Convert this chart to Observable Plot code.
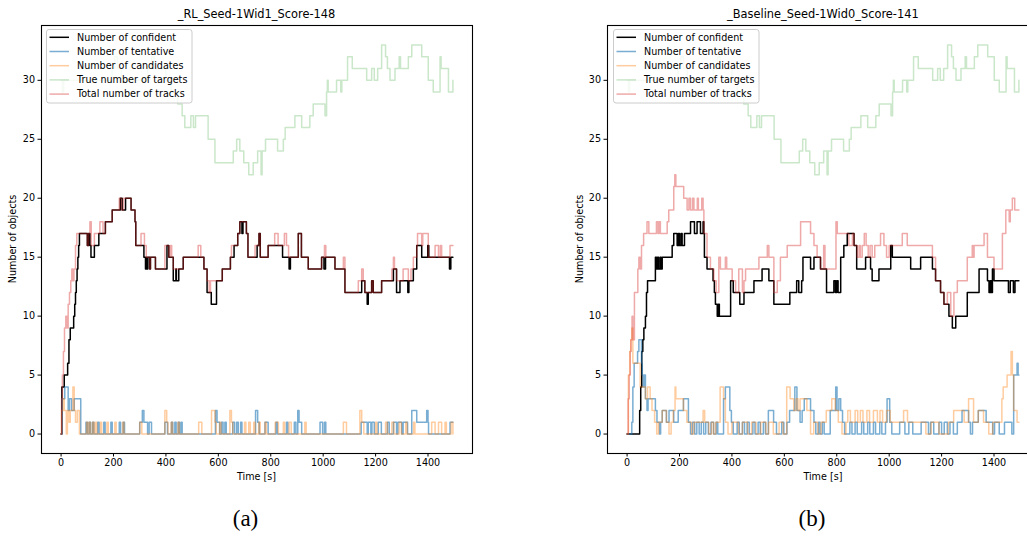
<!DOCTYPE html>
<html>
<head>
<meta charset="utf-8">
<script src="https://cdn.jsdelivr.net/npm/d3@7"></script>
<script src="https://cdn.jsdelivr.net/npm/@observablehq/plot@0.6"></script>
<style>
  html, body { margin: 0; padding: 0; background: #fff; overflow: hidden; }
  #page { position: relative; width: 1027px; height: 560px; overflow: hidden; font-family: "DejaVu Sans", sans-serif; color: #000; }
  .panel { position: absolute; top: 0; width: 500px; height: 500px; }
  .panel svg { max-width: none !important; }
  .txt { position: absolute; white-space: nowrap; line-height: 1; }
  .title { font-size: 11.4px; transform: translate(-50%, -50%); }
  .xlab { font-size: 9.6px; transform: translate(-50%, -50%); }
  .ylab { font-size: 9.6px; transform: translate(-50%, -50%) rotate(-90deg); }
  .cap { font-family: "Liberation Serif", serif; font-size: 23px; transform: translate(-50%, -50%); }
  .legend { position: absolute; }
</style>
</head>
<body>
<div id="page"></div>
<script>
// Time series are stored as change points [time (s), count]; drawn as step curves.

// Ground truth is shared by both runs (same seed).
const truthTargets = [[0,30],[5,29],[10,30],[195,31],[205,32],[215,31],[230,30],[330,31],[345,32],[355,31],[400,30],[420,29],[445,28],[462,27],[472,26],[495,27],[505,26],[513,27],[561,25],[587,23],[657,24],[670,25],[682,24],[697,23],[716,22],[733,23],[750,24],[763,22],[767,24],[780,25],[826,24],[848,25],[855,26],[892,27],[918,26],[949,27],[962,28],[1007,27],[1013,29],[1016,30],[1019,29],[1051,30],[1067,29],[1071,30],[1093,32],[1111,31],[1166,30],[1185,31],[1195,30],[1208,31],[1223,33],[1238,32],[1245,31],[1255,30],[1274,31],[1290,32],[1295,31],[1325,32],[1338,33],[1376,32],[1401,30],[1420,29],[1446,32],[1450,31],[1478,29],[1495,30]];

// Run (a): RL policy
const rlConfident = [[0,0],[3,4],[12,5],[25,6],[30,8],[35,9],[48,10],[52,11],[55,12],[58,13],[61,14],[64,15],[67,16],[70,17],[100,16],[105,17],[110,16],[114,15],[127,16],[144,17],[169,18],[195,19],[226,20],[233,19],[246,20],[267,19],[282,18],[285,16],[316,15],[322,14],[325,15],[328,14],[331,15],[338,14],[341,15],[360,14],[404,16],[411,15],[428,13],[438,14],[440,13],[449,14],[466,15],[545,14],[557,12],[573,11],[593,13],[615,14],[646,15],[660,16],[674,17],[682,18],[690,17],[694,18],[707,17],[713,15],[748,16],[755,17],[760,15],[790,16],[845,15],[870,14],[875,15],[905,17],[917,15],[943,14],[994,15],[1003,14],[1009,15],[1045,14],[1083,12],[1147,13],[1159,12],[1168,11],[1172,12],[1185,13],[1191,12],[1223,13],[1268,14],[1280,12],[1293,13],[1323,12],[1327,13],[1344,14],[1357,16],[1376,15],[1399,16],[1403,15],[1482,14],[1487,15],[1495,15]];
const rlTentative = [[0,0],[4,3],[14,4],[27,2],[32,3],[40,2],[50,3],[75,0],[95,1],[100,0],[107,1],[112,0],[120,1],[125,0],[140,1],[145,0],[163,1],[168,0],[190,1],[195,0],[222,1],[227,0],[237,1],[242,0],[300,1],[310,2],[316,1],[330,0],[336,1],[345,0],[396,1],[406,0],[421,1],[426,0],[434,1],[439,0],[447,1],[452,0],[458,1],[462,0],[589,2],[595,1],[605,0],[612,1],[618,0],[625,1],[630,0],[655,1],[662,0],[670,1],[676,0],[685,1],[690,0],[742,2],[750,1],[756,0],[778,1],[790,0],[820,1],[825,0],[860,1],[865,0],[890,1],[896,0],[903,2],[908,1],[918,0],[988,1],[998,0],[1005,1],[1010,0],[1145,1],[1168,0],[1172,1],[1182,0],[1186,1],[1195,0],[1210,1],[1222,0],[1245,1],[1252,0],[1268,1],[1280,0],[1285,1],[1300,0],[1305,1],[1322,0],[1338,2],[1357,1],[1395,2],[1400,1],[1402,0],[1484,1],[1495,1]];
const rlCandidates = [[0,0],[2,2],[8,3],[12,2],[20,0],[24,2],[30,1],[35,2],[45,4],[50,2],[55,1],[62,2],[70,0],[97,1],[102,0],[107,1],[112,0],[120,1],[125,0],[131,1],[136,0],[150,1],[155,0],[175,1],[180,0],[205,1],[210,0],[235,1],[240,0],[300,1],[308,0],[396,2],[403,1],[408,0],[420,1],[425,0],[446,1],[451,0],[525,1],[537,0],[574,2],[587,1],[592,0],[605,1],[610,0],[644,2],[650,1],[655,0],[700,1],[705,0],[716,1],[722,0],[735,1],[740,0],[754,1],[760,0],[778,1],[783,0],[817,1],[829,0],[848,1],[853,0],[870,1],[878,0],[930,1],[935,0],[1077,1],[1089,0],[1140,2],[1147,1],[1155,0],[1200,1],[1205,0],[1238,1],[1245,0],[1262,1],[1270,0],[1290,1],[1298,0],[1315,1],[1320,0],[1345,1],[1350,0],[1414,1],[1427,0],[1440,1],[1452,0],[1465,1],[1470,0],[1488,1],[1495,0]];
const rlTotal = [[0,0],[2,3],[5,5],[9,7],[13,9],[18,10],[22,9],[27,11],[32,12],[37,13],[41,14],[45,13],[49,14],[55,16],[60,17],[100,16],[105,17],[110,18],[115,16],[127,17],[148,18],[160,17],[169,18],[195,19],[222,20],[230,19],[238,20],[267,19],[282,18],[285,16],[305,17],[318,16],[325,15],[338,14],[341,15],[360,14],[396,16],[411,15],[417,16],[422,15],[428,14],[466,15],[523,16],[533,15],[545,14],[557,13],[565,12],[570,13],[615,14],[646,15],[650,16],[674,17],[682,18],[707,17],[713,15],[740,16],[755,17],[760,15],[790,16],[815,17],[828,16],[852,17],[860,16],[868,15],[905,17],[917,15],[943,14],[994,15],[1005,16],[1010,15],[1045,14],[1077,15],[1083,12],[1134,13],[1147,14],[1153,13],[1159,12],[1185,13],[1191,12],[1223,13],[1262,14],[1268,15],[1272,14],[1280,13],[1305,14],[1325,13],[1335,14],[1344,15],[1357,16],[1360,17],[1376,16],[1380,17],[1401,15],[1427,16],[1440,15],[1447,16],[1452,15],[1484,16],[1495,16]];

// Run (b): baseline policy
const blConfident = [[0,0],[48,2],[52,4],[56,7],[60,8],[64,9],[70,10],[74,12],[78,13],[108,15],[112,14],[116,15],[120,14],[126,15],[130,14],[134,15],[172,16],[178,17],[191,16],[196,17],[200,16],[206,17],[210,16],[219,17],[242,18],[257,17],[267,18],[280,17],[290,18],[293,17],[295,15],[305,14],[328,13],[333,12],[337,11],[344,10],[348,11],[352,10],[395,13],[405,12],[430,11],[446,12],[484,13],[515,14],[541,13],[560,11],[621,12],[647,13],[655,12],[666,13],[671,15],[700,14],[713,15],[738,14],[761,12],[789,13],[795,12],[800,13],[805,12],[815,15],[827,16],[840,17],[866,16],[876,14],[910,15],[929,14],[935,13],[961,14],[1006,16],[1012,15],[1082,14],[1120,15],[1165,14],[1177,13],[1196,12],[1209,11],[1228,10],[1241,9],[1254,10],[1298,12],[1343,14],[1375,13],[1381,12],[1386,13],[1390,12],[1394,14],[1400,13],[1455,12],[1462,13],[1474,12],[1480,13],[1495,13]];
const blTentative = [[0,0],[18,1],[22,4],[27,6],[40,7],[45,8],[55,6],[58,5],[62,4],[66,5],[70,3],[76,2],[80,3],[108,2],[114,1],[124,0],[128,1],[134,2],[150,1],[160,2],[178,1],[195,2],[215,3],[234,1],[242,0],[250,1],[258,0],[266,1],[275,0],[283,1],[292,0],[300,1],[310,0],[320,1],[330,0],[340,1],[346,0],[368,3],[375,4],[392,2],[398,1],[405,0],[420,1],[428,0],[440,1],[448,0],[458,1],[466,0],[480,1],[488,0],[500,1],[508,0],[520,1],[528,0],[539,2],[559,1],[570,0],[590,1],[598,0],[610,1],[620,2],[640,4],[648,2],[660,1],[668,2],[676,3],[700,2],[713,1],[720,0],[730,1],[736,0],[745,1],[752,0],[775,2],[796,4],[801,2],[808,3],[815,2],[822,1],[830,0],[850,1],[858,0],[870,1],[878,0],[895,1],[903,0],[918,1],[926,0],[940,1],[948,0],[964,1],[972,0],[986,1],[992,3],[1002,1],[1010,0],[1040,1],[1060,0],[1075,1],[1090,0],[1122,1],[1150,0],[1158,1],[1170,0],[1190,1],[1200,0],[1210,1],[1222,0],[1232,1],[1245,0],[1260,1],[1278,2],[1303,1],[1310,0],[1318,1],[1340,2],[1370,1],[1395,0],[1402,1],[1420,0],[1440,1],[1468,0],[1475,5],[1488,6],[1492,5],[1495,5]];
const blCandidates = [[0,0],[5,5],[10,7],[14,8],[18,9],[22,6],[50,4],[70,3],[78,4],[88,3],[95,2],[105,1],[113,0],[120,1],[134,2],[150,1],[160,0],[168,1],[176,2],[183,4],[186,3],[215,2],[228,1],[246,0],[255,1],[290,2],[296,1],[312,0],[322,1],[330,0],[338,1],[355,4],[368,3],[375,1],[385,0],[400,1],[425,0],[440,1],[460,0],[475,1],[492,0],[510,1],[530,0],[540,1],[558,0],[580,1],[595,0],[609,4],[622,3],[636,2],[645,3],[652,2],[660,3],[686,2],[700,0],[712,1],[728,0],[740,1],[760,2],[781,3],[794,2],[806,1],[820,0],[835,1],[842,2],[852,1],[870,2],[880,1],[890,2],[900,1],[915,2],[925,1],[940,2],[955,1],[965,2],[975,1],[990,2],[1004,1],[1055,2],[1070,1],[1140,0],[1160,1],[1190,0],[1226,1],[1246,2],[1286,1],[1303,3],[1322,1],[1340,2],[1360,1],[1380,0],[1395,1],[1430,3],[1435,4],[1450,5],[1465,7],[1470,5],[1475,2],[1488,1],[1495,1]];
const blTotal = [[0,0],[4,3],[8,5],[12,7],[15,8],[19,10],[22,8],[28,12],[41,14],[45,15],[50,14],[55,16],[63,17],[76,18],[83,17],[112,18],[118,17],[122,18],[127,17],[153,18],[159,19],[178,21],[182,22],[186,21],[216,20],[229,19],[236,20],[242,19],[250,20],[255,19],[268,20],[272,19],[285,20],[290,19],[293,17],[305,15],[318,14],[331,13],[340,12],[350,15],[356,14],[375,15],[380,14],[401,13],[414,12],[426,14],[440,12],[446,13],[452,14],[503,15],[535,16],[541,15],[560,12],[573,13],[585,15],[611,16],[662,18],[700,17],[713,16],[725,15],[738,14],[750,16],[755,14],[797,18],[802,17],[846,16],[860,17],[866,16],[878,15],[885,16],[890,15],[897,16],[905,17],[912,16],[920,15],[927,16],[935,15],[945,16],[967,17],[980,16],[990,15],[1000,16],[1050,17],[1069,16],[1165,15],[1177,13],[1196,12],[1209,11],[1222,12],[1235,10],[1247,12],[1260,13],[1298,15],[1317,16],[1320,15],[1324,16],[1362,17],[1375,15],[1400,14],[1432,17],[1445,19],[1458,18],[1462,19],[1470,20],[1479,19],[1495,19]];

// Axis ticks and labels
const xTicks = [0, 200, 400, 600, 800, 1000, 1200, 1400];
const yTicks = [0, 5, 10, 15, 20, 25, 30];
const seriesNames = ["Number of confident", "Number of tentative", "Number of candidates", "True number of targets", "Total number of tracks"];
const seriesColors = ["#000000", "#1f77b4", "#ff7f0e", "#2ca02c", "#d62728"];
const seriesOpacity = [1, 0.6, 0.4, 0.25, 0.4];
const panelTitles = ["_RL_Seed-1Wid1_Score-148", "_Baseline_Seed-1Wid0_Score-141"];
const panelCaptions = ["(a)", "(b)"];
const xLabel = "Time [s]";
const yLabel = "Number of objects";

const runs = [
  [rlConfident, rlTentative, rlCandidates, truthTargets, rlTotal],
  [blConfident, blTentative, blCandidates, truthTargets, blTotal]
];

const W = 500, H = 500, ML = 41, MR = 28, MT = 25, MB = 47;
const panelLeft = [0, 566.4];
const page = document.getElementById("page");

function addText(cls, text, x, y) {
  const d = document.createElement("div");
  d.className = "txt " + cls;
  d.textContent = text;
  d.style.left = x + "px";
  d.style.top = y + "px";
  page.appendChild(d);
}

runs.forEach((series, i) => {
  const chart = Plot.plot({
    width: W, height: H,
    marginLeft: ML, marginRight: MR, marginTop: MT, marginBottom: MB,
    style: { fontFamily: "DejaVu Sans", fontSize: "9.6px", color: "#000", background: "transparent", overflow: "visible", maxWidth: "none" },
    x: { domain: [-74.75, 1569.75], ticks: xTicks, tickFormat: d => String(d), tickSize: 3.5, tickPadding: 2.5, label: null },
    y: { domain: [-1.65, 34.65], ticks: yTicks, tickFormat: d => String(d), tickSize: 3.5, tickPadding: 3, label: null },
    marks: [
      ...series.map((s, k) => Plot.line(s, {
        x: d => d[0], y: d => d[1], curve: "step-after",
        stroke: seriesColors[k], strokeOpacity: seriesOpacity[k], strokeWidth: 1.5
      })),
      Plot.frame({ stroke: "#000", strokeWidth: 1.1 })
    ]
  });
  chart.style.maxWidth = "none";
  const wrap = document.createElement("div");
  wrap.className = "panel";
  wrap.style.left = panelLeft[i] + "px";
  wrap.appendChild(chart);
  page.appendChild(wrap);

  const left = panelLeft[i] + ML;
  const cx = left + (W - ML - MR) / 2;
  addText("title", panelTitles[i], cx, 15);
  addText("xlab", xLabel, cx, 477);
  addText("ylab", yLabel, left - 27.8, 239);
  addText("cap", panelCaptions[i], panelLeft[i] + 245.5, 518);

  // Legend box in the upper-left corner of the axes
  const lg = d3.create("svg")
    .attr("class", "legend")
    .attr("width", 150).attr("height", 78)
    .style("left", (left + 5.2) + "px").style("top", "29px");
  lg.append("rect")
    .attr("x", 0.5).attr("y", 0.5).attr("width", 145.5).attr("height", 73.5)
    .attr("rx", 2.5).attr("fill", "#fff").attr("fill-opacity", 0.8)
    .attr("stroke", "#cccccc").attr("stroke-width", 1);
  seriesNames.forEach((name, k) => {
    const y = 8.3 + k * 14.2;
    lg.append("line")
      .attr("x1", 3.5).attr("x2", 23).attr("y1", y).attr("y2", y)
      .attr("stroke", seriesColors[k]).attr("stroke-opacity", seriesOpacity[k]).attr("stroke-width", 1.5);
    lg.append("text")
      .attr("x", 31).attr("y", y).attr("dy", "0.35em")
      .attr("font-family", "DejaVu Sans").attr("font-size", "9.6px")
      .text(name);
  });
  page.appendChild(lg.node());
});
</script>
</body>
</html>
